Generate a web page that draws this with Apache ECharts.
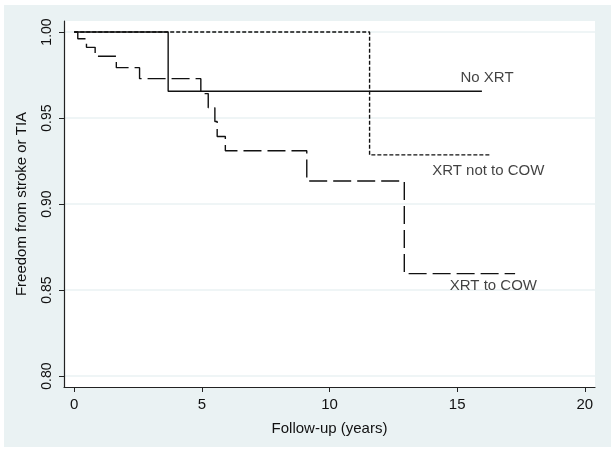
<!DOCTYPE html>
<html>
<head>
<meta charset="utf-8">
<script src="https://cdn.jsdelivr.net/npm/echarts@6/dist/echarts.min.js"></script>
<style>
  html, body { margin: 0; padding: 0; background: #ffffff; }
  #chart { width: 616px; height: 450px; }
</style>
</head>
<body>
<div id="chart"></div>
<script>
// ---- Data ----
const xTicks = [0, 5, 10, 15, 20];
const yTicks = [0.80, 0.85, 0.90, 0.95, 1.00];

const noXrtTime = [0, 3.68, 15.97];
const noXrtSurv = [1.0, 0.9656, 0.9656];

const notCowTime = [0, 11.57, 16.28];
const notCowSurv = [1.0, 0.9286, 0.9286];

const cowTime = [0, 0.14, 0.48, 0.82, 1.65, 2.56, 4.96, 5.25, 5.51, 5.60, 5.92, 9.11, 12.93, 17.27];
const cowSurv = [1.0, 0.9961, 0.9911, 0.9859, 0.9793, 0.9729, 0.9642, 0.9560, 0.9480, 0.9393, 0.9310, 0.9134, 0.8596, 0.8596];

const seriesNames = ['No XRT', 'XRT not to COW', 'XRT to COW'];
const labelX = [16.17, 16.22, 16.42];
const labelY = [0.9732, 0.9193, 0.8526];

const xTitle = 'Follow-up (years)';
const yTitle = 'Freedom from stroke or TIA';

// ---- Build ----
const pair = (t, s) => t.map((v, i) => [v, s[i]]);
const FONT = "'Liberation Sans', Arial, sans-serif";
const INK = '#111111';

const chart = echarts.init(document.getElementById('chart'), null, { renderer: 'canvas' });

const option = {
  animation: false,
  backgroundColor: 'transparent',
  graphic: [{
    type: 'rect', z: -10, silent: true,
    shape: { x: 4, y: 5, width: 607, height: 442 },
    style: { fill: '#EAF2F3' }
  }],
  grid: {
    left: 64, top: 21, width: 531, height: 366,
    show: true, backgroundColor: '#ffffff', borderWidth: 0
  },
  xAxis: {
    type: 'value', min: -0.4, max: 20.4,
    name: xTitle, nameLocation: 'middle', nameGap: 34,
    nameTextStyle: { fontFamily: FONT, fontSize: 15, color: INK },
    axisLine: { show: true, onZero: false, lineStyle: { color: '#222', width: 1.2 } },
    axisTick: { show: true, length: 5, customValues: xTicks, lineStyle: { color: '#222' } },
    axisLabel: { customValues: xTicks, margin: 10, fontFamily: FONT, fontSize: 15, color: INK },
    splitLine: { show: false }
  },
  yAxis: {
    type: 'value', min: 0.7937, max: 1.0064,
    name: yTitle, nameLocation: 'middle', nameGap: 35,
    nameTextStyle: { fontFamily: FONT, fontSize: 15, color: INK },
    axisLine: { show: true, onZero: false, lineStyle: { color: '#222', width: 1.2 } },
    axisTick: { show: true, length: 5, customValues: yTicks, lineStyle: { color: '#222' } },
    axisLabel: { customValues: yTicks, rotate: 90, margin: 10, fontFamily: FONT, fontSize: 14, color: INK,
                 formatter: v => Number(v).toFixed(2) },
    splitLine: { show: true, lineStyle: { color: '#EAF2F3', width: 1.5 } }
  },
  series: [
    { name: seriesNames[0], type: 'line', step: 'end', symbol: 'none', z: 3,
      data: pair(noXrtTime, noXrtSurv),
      lineStyle: { color: INK, width: 1.4, type: 'solid' } },
    { name: seriesNames[1], type: 'line', step: 'end', symbol: 'none', z: 2,
      data: pair(notCowTime, notCowSurv),
      lineStyle: { color: INK, width: 1.4, type: [4, 2] } },
    { name: seriesNames[2], type: 'line', step: 'end', symbol: 'none', z: 2,
      data: pair(cowTime, cowSurv),
      lineStyle: { color: INK, width: 1.4, type: [18, 6] } },
    { type: 'scatter', symbolSize: 0, silent: true, z: 4,
      data: seriesNames.map((n, i) => ({ value: [labelX[i], labelY[i]], name: n })),
      label: { show: true, position: 'inside', formatter: p => p.name,
               fontFamily: FONT, fontSize: 15, color: INK } }
  ]
};
chart.setOption(option);
</script>
</body>
</html>
